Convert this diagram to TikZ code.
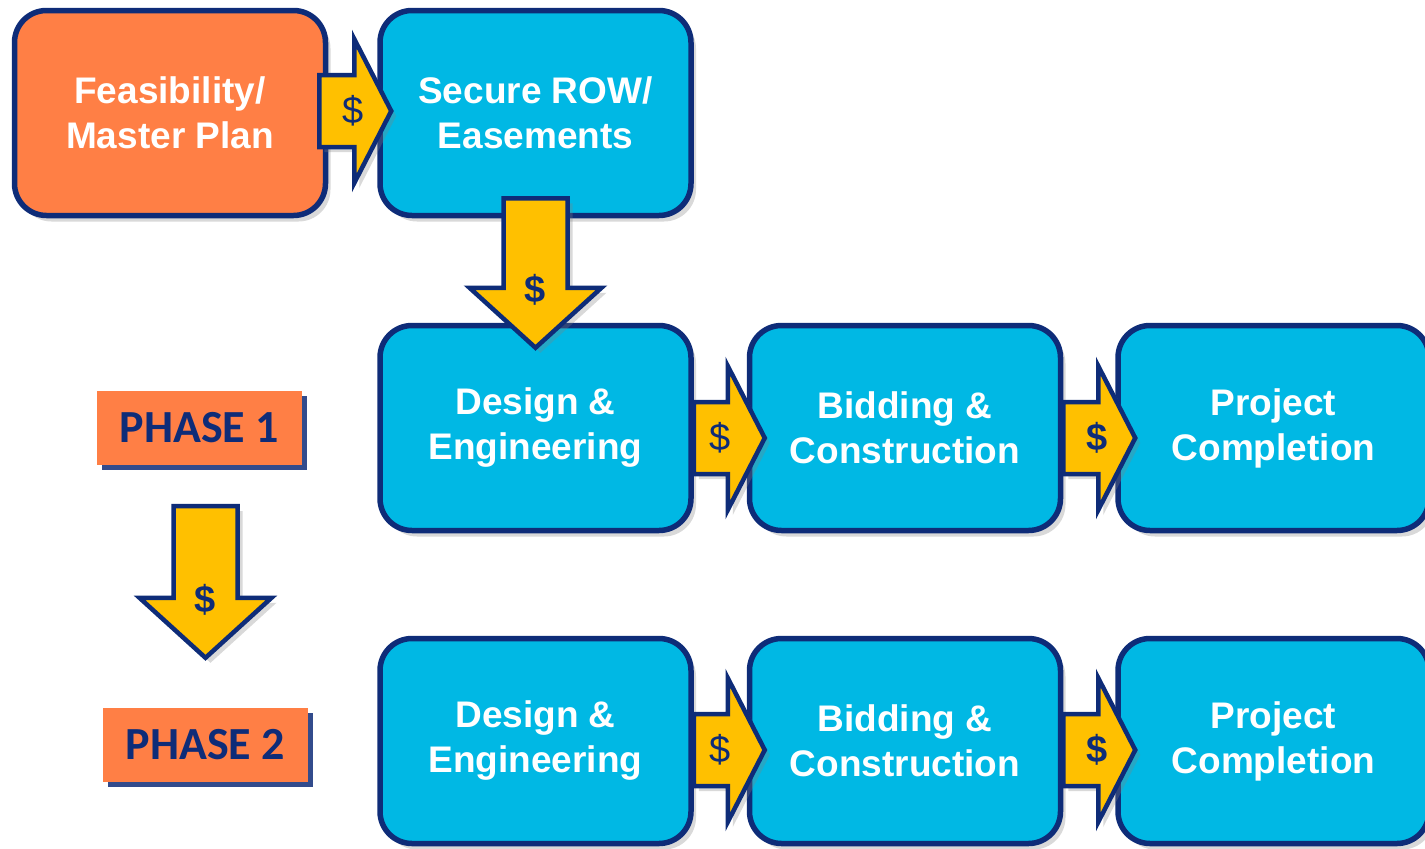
\documentclass[tikz,border=0pt]{standalone}
\usepackage{fontspec}
\setmainfont{Liberation Sans}
\newfontfamily\phasefont{Carlito}
\usetikzlibrary{calc, shadows}
\definecolor{navy}{HTML}{0E2C78}
\definecolor{stageorange}{HTML}{FF7F45}
\definecolor{stagecyan}{HTML}{00B8E4}
\definecolor{cashgold}{HTML}{FFC000}
\tikzstyle{stage} = [rectangle, rounded corners=32pt, minimum width=311pt, minimum height=205pt, align=center, line width=5.5pt, draw=navy, text=white, font=\fontsize{37}{45}\selectfont\bfseries, drop shadow={shadow xshift=5pt, shadow yshift=-6pt, opacity=0.3}]
\tikzstyle{first} = [stage, fill=stageorange]
\tikzstyle{later} = [stage, fill=stagecyan]
\tikzstyle{phase} = [rectangle, minimum width=205pt, minimum height=74pt, fill=stageorange, text=navy, font=\phasefont\fontsize{46}{50}\selectfont\bfseries, drop shadow={shadow xshift=5pt, shadow yshift=-5pt, fill=navy, opacity=0.85}]
\tikzstyle{cash} = [fill=cashgold, draw=navy, line width=4.5pt, line join=miter, drop shadow={shadow xshift=5pt, shadow yshift=-5pt, opacity=0.3}]
\tikzstyle{dollar} = [text=navy, inner sep=0pt, font=\fontsize{38}{38}\selectfont]
\tikzstyle{bolddollar} = [dollar, font=\fontsize{38}{38}\selectfont\bfseries]
\tikzstyle{boldrightdollar} = [bolddollar, xshift=8pt]

% #1 vertical offset, #2 start gap, #3 tip gap, #4 from, #5 to, #6 label style
\newcommand{\cashright}[6]{
  \draw[cash] let \p1=($(#4.east)+(#2,#1)$), \p2=($(#5.west)+(#3,#1)$) in
    (\x1,\y2+36pt) -- (\x2-37pt,\y2+36pt) -- (\x2-37pt,\y2+72pt) -- (\p2)
    -- (\x2-37pt,\y2-72pt) -- (\x2-37pt,\y2-36pt) -- (\x1,\y2-36pt) -- cycle;
  \node[#6] at ($(#4.east)!0.5!(#5.west)+(0,#1)$) {\$};
}
% #1 from, #2 to, #3 start gap, #4 tip gap, #5 label style
\newcommand{\cashdown}[5]{
  \draw[cash] let \p1=($(#1.south)+(0,#3)$), \p2=($(#2.north)+(0,#4)$) in
    (\x2-32pt,\y1) -- (\x2+32pt,\y1) -- (\x2+32pt,\y2+60pt) -- (\x2+66pt,\y2+60pt) -- (\p2)
    -- (\x2-66pt,\y2+60pt) -- (\x2-32pt,\y2+60pt) -- cycle;
  \path let \p2=($(#2.north)+(0,#4)$) in node[#5] at (\x2,\y2+58pt) {\$};
}

\begin{document}
\begin{tikzpicture}[x=1pt, y=1pt]
            \useasboundingbox (0,0) rectangle (1425,-849);
            \node [first] at (170,-113) (feasibility) {Feasibility/\\Master Plan};
            \node [later] at (535.5,-113) (secure) {Secure ROW/\\Easements};
            \node [later] at (535.5,-428) (design1) {Design \&\\Engineering};
            \node [later] at (905,-428) (bidding1) {Bidding \&\\Construction};
            \node [later] at (1273.5,-428) (completion1) {Project\\Completion};
            \node [later] at (535.5,-741) (design2) {Design \&\\Engineering};
            \node [later] at (905,-741) (bidding2) {Bidding \&\\Construction};
            \node [later] at (1273.5,-741) (completion2) {Project\\Completion};
            \node [phase] at (199.5,-428) (phase1) {PHASE 1};
            \node [phase] at (205.5,-745) (phase2) {PHASE 2};

            \cashright{2pt}{-9pt}{14pt}{feasibility}{secure}{dollar}
            \cashdown{secure}{design1}{20pt}{-25pt}{bolddollar}
            \cashright{-10pt}{0pt}{18pt}{design1}{bidding1}{dollar}
            \cashright{-10pt}{0pt}{20pt}{bidding1}{completion1}{boldrightdollar}
            \cashright{-9pt}{0pt}{18pt}{design2}{bidding2}{dollar}
            \cashright{-9pt}{0pt}{20pt}{bidding2}{completion2}{boldrightdollar}
            \cashdown{phase1}{phase2}{-41pt}{50pt}{bolddollar}
\end{tikzpicture}
\end{document}
